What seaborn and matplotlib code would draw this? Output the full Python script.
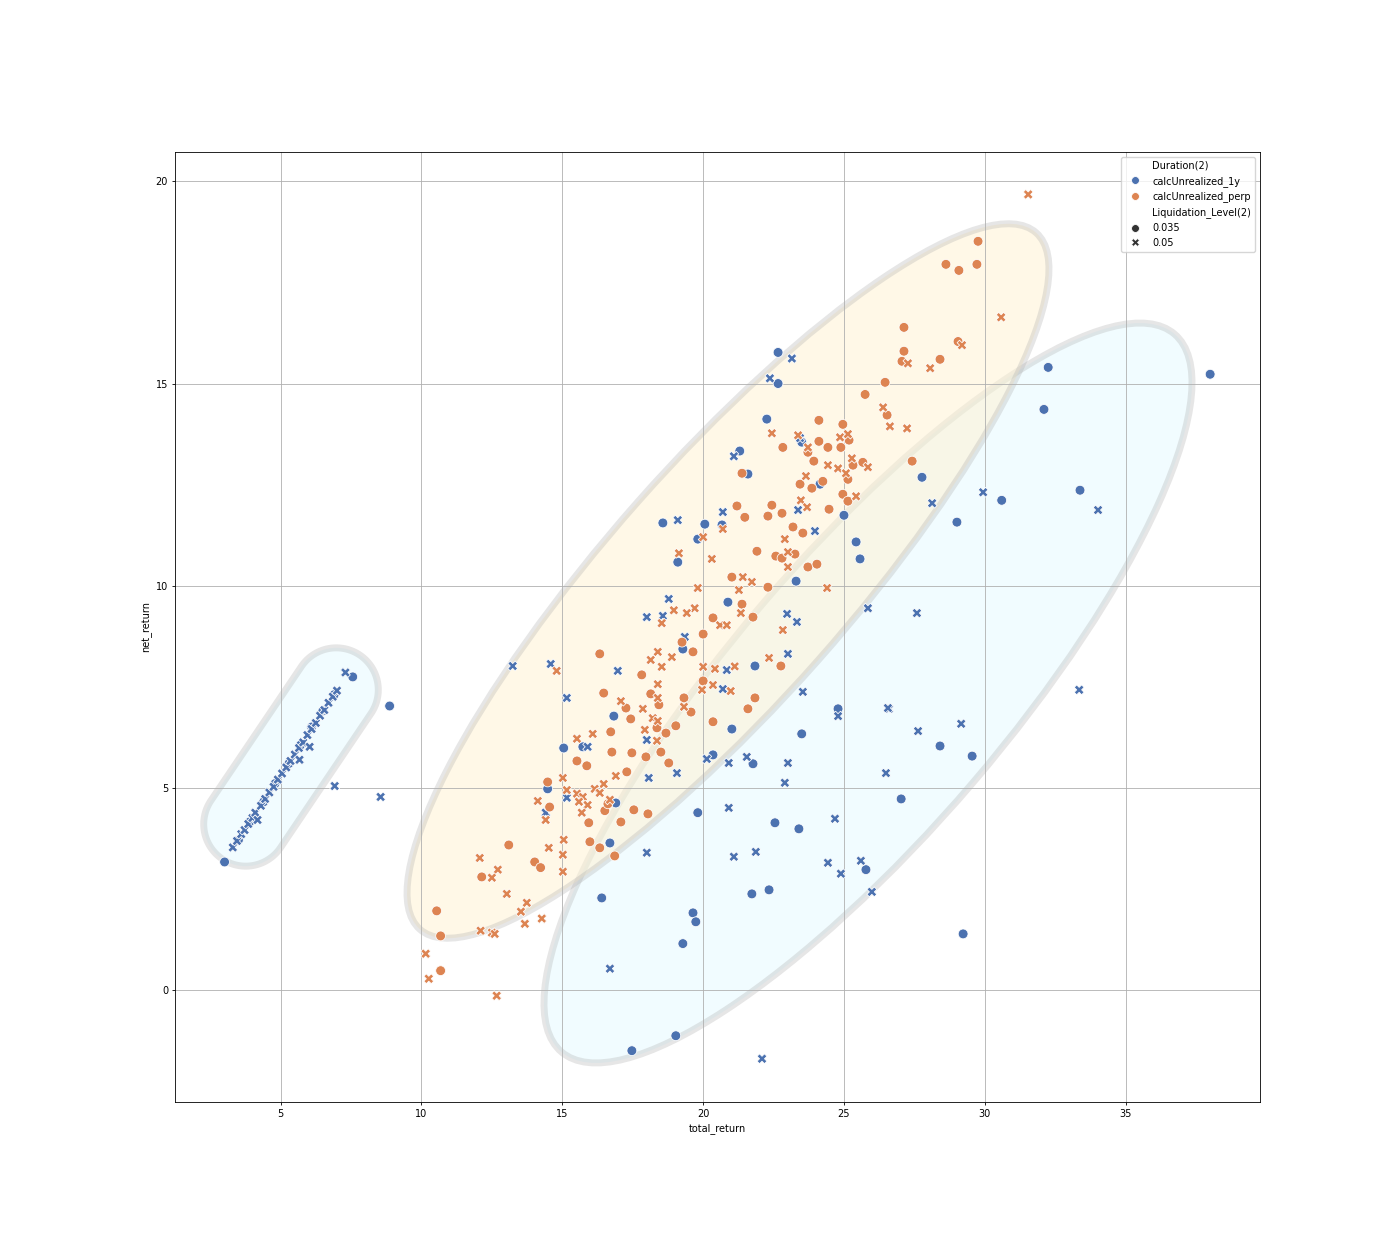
import matplotlib
matplotlib.use("Agg")
import matplotlib.pyplot as plt
from matplotlib.patches import Ellipse, Polygon
from matplotlib.transforms import Affine2D
import seaborn as sns
import numpy as np
import pandas as pd

# calcUnrealized_1y, liquidation 0.035 (circles)
y1_035_x = [3.01, 8.87, 7.56, 3.5, 3.9, 4.4, 4.8, 5.3, 5.7, 6.1, 6.5, 6.9,
            22.66, 22.66, 22.26, 21.3, 21.59, 18.57, 20.06, 20.67, 19.81, 19.1, 23.5, 24.15,
            25.0, 25.43, 25.57, 27.77, 29.01, 23.3, 20.88, 32.25, 38.0, 32.1, 30.6, 33.38,
            28.41, 29.55, 27.03, 25.78, 29.23, 19.28, 16.83, 15.05, 15.73, 21.84,
            24.79, 21.02, 23.5, 20.35, 21.77, 14.48, 16.9, 19.81, 22.55, 23.4, 16.69,
            21.73, 22.34, 16.4, 19.64, 19.74, 19.28, 19.03, 17.47]
y1_035_y = [3.16, 7.02, 7.74, 3.7, 4.15, 4.65, 5.1, 5.6, 6.05, 6.5, 6.9, 7.3,
            15.77, 15.0, 14.12, 13.33, 12.76, 11.55, 11.52, 11.5, 11.15, 10.58, 13.55, 12.51,
            11.74, 11.08, 10.66, 12.68, 11.57, 10.11, 9.59, 15.4, 15.23, 14.36, 12.11, 12.36,
            6.03, 5.78, 4.72, 2.97, 1.38, 8.43, 6.77, 5.98, 6.01, 8.01,
            6.95, 6.45, 6.33, 5.81, 5.59, 4.97, 4.62, 4.38, 4.13, 3.98, 3.63,
            2.37, 2.47, 2.27, 1.9, 1.68, 1.14, -1.14, -1.51]

# calcUnrealized_1y, liquidation 0.05 (crosses)
y1_05_x = [3.30, 3.45, 3.6, 3.72, 3.85, 4.0, 4.1, 4.3, 4.45, 4.6, 4.75, 4.9, 5.05, 5.2,
           5.35, 5.5, 5.65, 5.8, 5.95, 6.1, 6.25, 6.4, 6.55, 6.7, 6.85, 7.0, 7.3,
           4.18, 6.03, 5.67, 6.92, 8.55,
           23.15, 22.37, 21.09, 19.1, 20.7, 23.44, 23.37, 23.97, 28.13, 22.98, 23.33,
           25.85, 27.59, 29.94, 34.02, 33.35, 26.6, 27.63, 29.16, 26.49, 25.6, 25.99,
           19.35, 16.97, 15.16, 15.9, 18.0, 20.84, 20.7, 23.01, 23.54, 24.79, 26.56,
           20.13, 20.91, 21.55, 23.01, 22.9, 18.07, 19.07, 15.16, 20.91, 24.68, 24.43,
           24.89, 18.0, 21.09, 21.87, 16.69, 22.09, 13.24, 14.59, 18.0, 18.57, 18.78, 14.41]
y1_05_y = [3.52, 3.68, 3.85, 3.95, 4.1, 4.25, 4.38, 4.55, 4.72, 4.88, 5.02, 5.2, 5.35, 5.5,
           5.66, 5.82, 5.98, 6.12, 6.3, 6.45, 6.6, 6.78, 6.92, 7.1, 7.25, 7.4, 7.85,
           4.2, 6.01, 5.69, 5.04, 4.77,
           15.62, 15.13, 13.2, 11.62, 11.82, 13.65, 11.87, 11.35, 12.04, 9.3, 9.1,
           9.44, 9.32, 12.31, 11.87, 7.42, 6.95, 6.4, 6.58, 5.36, 3.19, 2.42,
           8.73, 7.89, 7.22, 6.01, 6.18, 7.91, 7.44, 8.31, 7.37, 6.77, 6.97,
           5.71, 5.61, 5.76, 5.61, 5.12, 5.24, 5.36, 4.75, 4.5, 4.23, 3.14,
           2.87, 3.39, 3.29, 3.41, 0.52, -1.71, 8.01, 8.06, 9.22, 9.25, 9.67, 4.38]

# calcUnrealized_perp, liquidation 0.035 (circles)
perp_035_x = [29.76, 28.62, 29.08, 29.72, 27.13, 27.13, 29.05, 27.06, 28.41, 26.46, 26.53, 27.42,
              25.75, 24.11, 24.96, 24.11, 25.18, 24.89, 24.43, 22.83, 23.72, 23.93, 25.32, 25.67,
              25.14, 21.38, 24.25, 23.44, 23.86, 24.96, 25.14, 24.47, 21.2, 21.48, 22.44, 22.3,
              22.8, 23.19, 23.54, 21.91, 22.58, 23.26, 22.8, 23.72, 24.04, 21.02, 22.3, 21.38,
              20.35, 21.77,
              20.0, 19.64, 19.25, 16.33, 17.82, 20.0, 16.47, 18.14, 18.43, 17.26, 19.32, 19.57,
              17.43, 19.03, 18.36, 18.68, 18.5, 17.97, 17.47, 16.76, 16.72, 15.52, 15.87, 18.78,
              20.35, 17.29, 14.48, 14.55, 16.51, 16.62, 17.54, 18.04, 22.76, 21.84, 21.59, 17.08,
              15.98, 16.33, 16.86, 15.94,
              13.1, 14.02, 14.23, 12.14, 10.54, 10.68, 10.68]
perp_035_y = [18.52, 17.95, 17.8, 17.95, 16.39, 15.8, 16.04, 15.55, 15.6, 15.03, 14.22, 13.08,
              14.73, 14.09, 13.99, 13.57, 13.6, 13.42, 13.42, 13.42, 13.3, 13.08, 12.98, 13.05,
              12.63, 12.78, 12.58, 12.51, 12.41, 12.26, 12.09, 11.89, 11.97, 11.69, 11.99, 11.72,
              11.79, 11.45, 11.3, 10.85, 10.73, 10.78, 10.68, 10.46, 10.53, 10.21, 9.96, 9.54,
              9.2, 9.22,
              8.8, 8.36, 8.6, 8.31, 7.79, 7.64, 7.34, 7.32, 7.05, 6.97, 7.22, 6.87,
              6.7, 6.53, 6.48, 6.35, 5.88, 5.76, 5.86, 5.88, 6.38, 5.66, 5.54, 5.61,
              6.63, 5.39, 5.14, 4.52, 4.43, 4.6, 4.45, 4.35, 8.01, 7.22, 6.95, 4.15,
              3.66, 3.51, 3.31, 4.13,
              3.58, 3.16, 3.02, 2.79, 1.95, 1.33, 0.47]

# calcUnrealized_perp, liquidation 0.05 (crosses)
perp_05_x = [31.54, 30.58, 29.19, 27.27, 28.06, 26.39, 26.63, 27.24,
             22.44, 23.37, 24.86, 25.14, 23.72, 25.28, 25.85, 24.43, 24.79, 25.07, 23.65, 25.43,
             23.47, 23.69, 22.9, 20.7, 20.0, 23.01, 23.01, 20.31, 21.41, 21.73, 19.81, 21.27,
             24.4, 21.34, 19.7, 19.42, 20.6, 20.84, 19.14,
             18.96, 18.53, 18.39, 18.14, 18.89, 18.53, 20.0, 20.42, 14.8, 18.39, 19.96, 20.35,
             18.39, 17.08, 19.32, 17.86, 18.21, 18.39, 17.93, 18.36, 16.08, 15.52, 16.9, 15.02,
             16.47, 16.15, 16.33, 15.52, 15.73, 15.16, 14.13, 15.59, 15.9, 16.69, 15.69, 21.12,
             22.34, 22.83, 20.98, 15.05, 15.02, 15.02, 14.41,
             14.52, 12.07, 12.71, 12.5, 13.03, 13.74, 13.53, 13.67, 14.27, 12.1, 12.5, 12.6,
             10.15, 10.26, 12.67]
perp_05_y = [19.68, 16.64, 15.95, 15.5, 15.38, 14.41, 13.94, 13.89,
             13.77, 13.72, 13.67, 13.75, 13.42, 13.15, 12.93, 12.98, 12.9, 12.78, 12.71, 12.21,
             12.11, 11.94, 11.15, 11.4, 11.2, 10.83, 10.46, 10.66, 10.21, 10.09, 9.94, 9.89,
             9.94, 9.32, 9.44, 9.32, 9.02, 9.02, 10.8,
             9.39, 9.07, 8.36, 8.16, 8.23, 7.99, 7.99, 7.94, 7.89, 7.56, 7.42, 7.54,
             7.22, 7.14, 7.0, 6.95, 6.72, 6.65, 6.43, 6.16, 6.33, 6.21, 5.29, 5.24,
             5.09, 4.97, 4.87, 4.85, 4.77, 4.94, 4.67, 4.65, 4.57, 4.7, 4.38, 8.0,
             8.21, 8.9, 7.39, 3.71, 3.34, 2.92, 4.2,
             3.51, 3.26, 2.97, 2.77, 2.37, 2.15, 1.93, 1.63, 1.76, 1.46, 1.41, 1.38,
             0.89, 0.27, -0.15]

durations = ["calcUnrealized_1y", "calcUnrealized_perp"]
levels = ["0.035", "0.05"]

frames = []
for dur, lev, xs, ys in [(durations[0], levels[0], y1_035_x, y1_035_y),
                         (durations[0], levels[1], y1_05_x, y1_05_y),
                         (durations[1], levels[0], perp_035_x, perp_035_y),
                         (durations[1], levels[1], perp_05_x, perp_05_y)]:
    frames.append(pd.DataFrame({"total_return": xs, "net_return": ys,
                                "Duration(2)": dur, "Liquidation_Level(2)": lev}))
df = pd.concat(frames, ignore_index=True)

# the original was rendered larger and scaled down, so everything is ~70% size
plt.rcParams.update({
    "font.size": 7,
    "axes.linewidth": 0.6,
    "grid.linewidth": 0.6,
    "xtick.major.size": 2.5, "ytick.major.size": 2.5,
    "xtick.major.width": 0.6, "ytick.major.width": 0.6,
    "xtick.major.pad": 2.5, "ytick.major.pad": 2.5,
    "axes.labelpad": 2.8,
})

fig = plt.figure(figsize=(14, 12.6), dpi=100)
ax = fig.add_axes([0.125, 158 / 1260, 0.775, 950 / 1260])
ax.set_axisbelow(True)
ax.grid(True)

sns.scatterplot(data=df, x="total_return", y="net_return", hue="Duration(2)",
                style="Liquidation_Level(2)", hue_order=durations, style_order=levels,
                palette="deep", s=50, zorder=3, ax=ax)

# highlight shapes drawn in figure pixel space (y measured from top)
def px_trans(cx, cy, angle):
    return (Affine2D().rotate_deg(angle).translate(cx, 1260 - cy)
            .scale(1 / 1400, 1 / 1260) + fig.transFigure)

edge = (0.68, 0.68, 0.68, 0.3)
cyan = Ellipse((0, 0), 2 * 472, 2 * 138, transform=px_trans(868, 693, 49.5),
               facecolor=(0.88, 0.98, 1.0, 0.45), edgecolor=edge, lw=5, zorder=0.3)
yellow = Ellipse((0, 0), 2 * 465, 2 * 120, transform=px_trans(728, 581, 48.5),
                 facecolor=(1.0, 0.95, 0.82, 0.5), edgecolor=edge, lw=5, zorder=0.3)

half, r = 81, 42
t = np.radians(np.linspace(-90, 90, 60))
cap = np.vstack([np.column_stack([half + r * np.cos(t), r * np.sin(t)]),
                 np.column_stack([-half - r * np.cos(t), -r * np.sin(t)])])
capsule = Polygon(cap, closed=True, transform=px_trans(291, 757, 56),
                  facecolor=(0.88, 0.98, 1.0, 0.45), edgecolor=edge, lw=5, zorder=0.3)
for p in (cyan, yellow, capsule):
    ax.add_artist(p)

ax.set_xlim(1.25, 39.77)
ax.set_ylim(-2.78, 20.73)
ax.legend(loc="upper right", markerscale=0.8)

fig.savefig("out.png", dpi=100)
